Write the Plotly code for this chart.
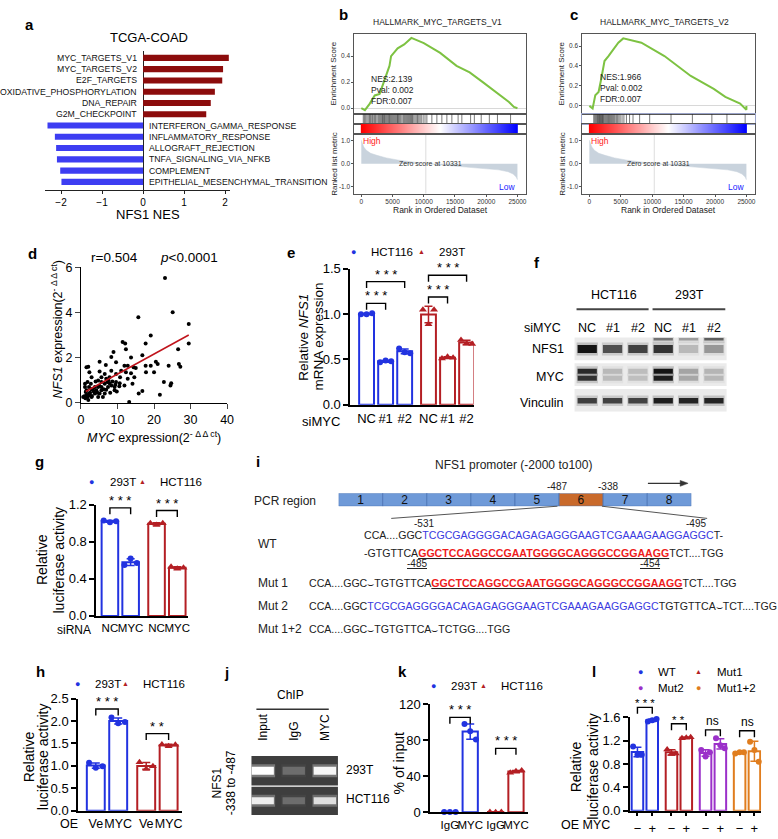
import numpy as np
import plotly.graph_objects as go

W, H = 778, 839
FONT = "Liberation Sans, Arial, sans-serif"
BLUE = "#2233e0"
RED = "#b41f24"
PURPLE = "#9b30c9"
ORANGE = "#e07d1e"
A_RED = "#8c0c0c"
A_BLUE = "#3d3df2"
GREEN = "#7dc242"

# ---------------- data ----------------
# a
a_terms = ["MYC_TARGETS_V1", "MYC_TARGETS_V2", "E2F_TARGETS", "OXIDATIVE_PHOSPHORYLATION",
           "DNA_REPAIR", "G2M_CHECKPOINT", "INTERFERON_GAMMA_RESPONSE", "INFLAMMATORY_RESPONSE",
           "ALLOGRAFT_REJECTION", "TNFA_SIGNALING_VIA_NFKB", "COMPLEMENT",
           "EPITHELIAL_MESENCHYMAL_TRANSITION"]
a_nes = [2.09, 1.95, 1.93, 1.75, 1.65, 1.54, -2.33, -2.15, -2.12, -2.10, -2.02, -1.99]
a_ticks = [-2, -1, 0, 1, 2]

# b / c  (GSEA)
b_rank = [0, 580, 1360, 2150, 2940, 3720, 4510, 4770, 5820, 6870, 8020, 10010, 12630, 15250,
          17350, 19450, 21550, 23640, 24430, 25000]
b_es = [0.0, -0.015, 0.035, 0.098, 0.11, 0.21, 0.325, 0.40, 0.46, 0.49, 0.54, 0.50, 0.425, 0.325,
        0.275, 0.20, 0.123, 0.048, 0.01, 0.0]
b_hits = [320, 500, 700, 900, 1100, 1300, 1450, 1600, 1800, 2000, 2150, 2300, 2500, 2700, 2850,
          3000, 3150, 3300, 3400, 3550, 3700, 3800, 3950, 4100, 4250, 4400, 4500, 4650, 4800,
          4950, 5100, 5250, 5400, 5550, 5700, 5800, 5950, 6100, 6300, 6500, 6700, 6850, 7000,
          7150, 7300, 7450, 7600, 7750, 7900, 8050, 8200, 8400, 8600, 8800, 9000, 9200, 9400,
          9600, 9900, 10200, 10500, 11300, 12100, 12900, 13700, 14500, 15500, 16100, 17500,
          18100, 19200, 20500, 21800, 23900]
c_rank = [0, 520, 943, 1467, 1887, 2410, 3040, 3826, 4610, 5395, 6180, 8280, 11950, 16140, 19800,
          21640, 24000, 25000, 25000]
c_es = [0.0, -0.026, 0.106, 0.139, 0.27, 0.45, 0.5, 0.57, 0.634, 0.677, 0.667, 0.634, 0.50, 0.30,
        0.17, 0.09, 0.024, -0.04, 0.0]
c_hits = [700, 850, 1000, 1150, 1300, 1400, 1500, 1600, 1700, 1800, 1900, 2000, 2100, 2200, 2300,
          2450, 2600, 2750, 2900, 3050, 3200, 3350, 3500, 3650, 3800, 3950, 4100, 4300, 4500,
          4700, 4900, 5200, 5500, 5900, 6400, 6950, 8000, 9600, 13000, 16400, 19500, 21900, 24800]
metric_rank = [0, 150, 400, 800, 1500, 2500, 4000, 6000, 8000, 10331, 12500, 15000, 17500, 20000,
               22000, 23500, 24300, 24800, 25000]
metric_val = [1.02, 0.9, 0.72, 0.58, 0.45, 0.36, 0.25, 0.15, 0.07, 0.0, -0.05, -0.1, -0.15, -0.2,
              -0.27, -0.35, -0.45, -0.58, -0.7]
zero_cross = 10331
rank_ticks = [0, 5000, 10000, 15000, 20000, 25000]

# d
d_myc = [23.0, 25.1, 15.7, 29.5, 29.5, 19.1, 11.4, 12.1, 17.7, 8.9,
         12.3, 26.6, 16.8, 8.3, 13.7, 5.1, 9.6, 20.5, 21.0, 26.8,
         24.0, 17.7, 19.1, 27.2, 2.0, 1.5, 6.8, 11.9, 12.8, 14.4,
         15.0, 8.3, 11.0, 12.3, 17.8, 20.0, 2.3, 5.1, 6.5, 9.6,
         13.7, 2.9, 14.6, 5.6, 6.9, 7.8, 4.0, 8.6, 9.6, 10.6,
         14.1, 22.7, 24.7, 24.5, 5.6, 7.4, 9.4, 11.9, 1.1, 1.5,
         3.3, 4.7, 6.9, 9.2, 6.5, 5.1, 2.4, 3.8, 15.8, 16.8,
         21.6, 13.2, 0.9, 1.8, 2.9, 2.2, 1.3, 4.2, 5.6, 7.2,
         8.3, 2.7, 1.8, 0.6, 2.0, 4.7, 6.0, 6.5, 7.8, 10.7,
         12.8, 4.7, 9.2, 10.5, 5.6, 3.8, 1.1, 2.2,
         1.5, 2.5, 3.0, 1.2, 3.5, 2.8, 4.5, 6.2, 5.0, 8.0, 9.8, 7.5]
d_nfs1 = [5.52, 4.01, 3.79, 3.49, 2.62, 2.98, 2.69, 2.63, 2.62, 2.25,
          2.37, 2.37, 2.11, 2.03, 2.0, 1.82, 1.79, 1.82, 1.72, 1.72,
          1.64, 1.64, 1.64, 1.6, 1.6, 1.57, 1.67, 1.64, 1.64, 1.57,
          1.54, 1.42, 1.42, 1.35, 1.35, 1.35, 1.35, 1.38, 1.28, 1.28,
          1.31, 1.13, 1.13, 1.13, 1.06, 1.13, 0.94, 0.94, 0.92, 0.87,
          0.84, 0.92, 0.87, 0.77, 0.7, 0.7, 0.8, 0.77, 0.7, 0.55,
          0.62, 0.7, 0.58, 0.55, 0.41, 0.41, 0.33, 0.41, 0.41, 0.52,
          0.36, 0.04, 0.29, 0.26, 0.26, 0.41, 0.48, 0.55, 0.92, 0.92,
          0.77, 0.84, 0.92, 0.26, 0.12, 0.26, 0.26, 0.84, 0.87, 1.13,
          1.06, 0.99, 0.7, 0.73, 0.55, 0.7, 0.84, 0.7,
          0.35, 0.45, 0.3, 0.2, 0.5, 0.6, 0.45, 0.6, 0.75, 0.45, 0.5, 1.0]
d_fit_x = [1.3, 29.5]
d_fit_y = [0.5, 3.0]

# e
e_labels = ["NC", "#1", "#2", "NC", "#1", "#2"]
e_hct = [[1.00, 1.00, 1.01], [0.47, 0.49, 0.48], [0.62, 0.58, 0.57]]
e_293 = [[1.05, 0.89, 1.05], [0.51, 0.53, 0.52], [0.715, 0.676, 0.67]]
e_brackets = [(0, 1, 1.12, "* * *"), (0, 2, 1.36, "* * *"), (3, 4, 1.19, "* * *"), (3, 5, 1.43, "* * *")]

# f (western blot band intensities, 0..1)
f_lanes = ["NC", "#1", "#2", "NC", "#1", "#2"]
f_rows = ["NFS1", "MYC", "Vinculin"]
f_nfs1 = [1.0, 0.72, 0.78, 0.85, 0.22, 0.38]
f_nfs1_upper = [0.0, 0.0, 0.0, 0.55, 0.35, 0.65]
f_myc = [0.9, 0.22, 0.2, 1.0, 0.32, 0.24]
f_vinc = [0.8, 0.78, 0.78, 0.95, 0.92, 0.92]

# g
g_labels = ["NC", "MYC", "NC", "MYC"]
g_293 = [[1.03, 1.01, 1.02], [0.55, 0.62, 0.57]]
g_hct = [[1.00, 0.98, 1.00], [0.53, 0.51, 0.52]]
g_brackets = [(0, 1, 1.165, "* * *"), (2, 3, 1.137, "* * *")]

# h
h_labels = ["Ve", "MYC", "Ve", "MYC"]
h_293 = [[1.07, 0.96, 0.99], [2.08, 1.95, 1.98]]
h_hct = [[1.08, 0.93, 0.99], [1.48, 1.44, 1.47]]
h_brackets = [(0, 1, 2.27, "* * *"), (2, 3, 1.72, "* *")]

# i
i_segments = ["1", "2", "3", "4", "5", "6", "7", "8"]
i_seg_len = [1, 1, 1, 1, 1, 1, 1, 1]
i_highlight = "6"

# j (ChIP gel band intensities)
j_lanes = ["Input", "IgG", "MYC"]
j_293 = [1.0, 0.12, 0.95]
j_hct = [0.9, 0.12, 0.8]

# k
k_labels = ["IgG", "MYC", "IgG", "MYC"]
k_293 = [[0.4, 0.3, 0.5], [98.0, 90.0, 81.0]]
k_hct = [[0.3, 0.2, 0.4], [44.0, 45.5, 46.5]]
k_brackets = [(0, 1, 105.5, "* * *"), (2, 3, 71.0, "* * *")]

# l
l_labels = ["\u2212", "+", "\u2212", "+", "\u2212", "+", "\u2212", "+"]
l_wt = [[1.10, 0.96, 0.96], [1.53, 1.55, 1.57]]
l_mut1 = [[1.05, 0.97, 0.98], [1.24, 1.25, 1.26]]
l_mut2 = [[1.04, 0.93, 1.00], [1.24, 1.12, 1.07]]
l_mut12 = [[0.98, 1.00, 1.00], [1.18, 1.04, 0.84]]
l_brackets = [(0, 1, 1.77, "* * *"), (2, 3, 1.49, "* *"), (4, 5, 1.385, "ns"), (6, 7, 1.37, "ns")]

# ---------------- helpers ----------------
fig = go.Figure()
L = dict(width=W, height=H, margin=dict(l=0, r=0, t=0, b=0), paper_bgcolor="white",
         plot_bgcolor="rgba(0,0,0,0)", showlegend=False,
         font=dict(family=FONT, color="black", size=12))
ann = []
shp = []
cnt = [0]


def new():
    cnt[0] += 1
    return cnt[0]


def xa(n): return "xaxis" if n == 1 else f"xaxis{n}"
def ya(n): return "yaxis" if n == 1 else f"yaxis{n}"
def xr(n): return "x" if n == 1 else f"x{n}"
def yr(n): return "y" if n == 1 else f"y{n}"
def xd(x0, x1): return [x0 / W, x1 / W]
def yd(y0, y1): return [1 - y1 / H, 1 - y0 / H]


def T(x, y, s, size=12, color="black", xan="center", yan="middle", angle=0, **kw):
    ann.append(dict(x=x / W, y=1 - y / H, xref="paper", yref="paper", text=s, showarrow=False,
                    font=dict(size=size, color=color, family=FONT), xanchor=xan, yanchor=yan,
                    textangle=angle, **kw))


def VT(x, y, s, size=13):
    # vertical (rotated) title line, x = visual centre of the glyphs
    T(x - 2, y, s, size=size, angle=-90)


def label(x, y, s):
    T(x, y, "<b>" + s + "</b>", size=15)


def pline(x0, y0, x1, y1, color="#444", width=1.5):
    shp.append(dict(type="line", xref="paper", yref="paper", x0=x0 / W, x1=x1 / W,
                    y0=1 - y0 / H, y1=1 - y1 / H, line=dict(color=color, width=width)))


# ---------------- panel a ----------------
n = new()
L[xa(n)] = dict(domain=xd(43, 230), range=[-2.38, 2.12], anchor=yr(n), tickvals=a_ticks,
                ticks="outside", ticklen=3, tickcolor="#222", showline=True, linecolor="#222",
                linewidth=1, zeroline=True, zerolinecolor="#222", zerolinewidth=1,
                showgrid=False, tickfont=dict(size=10))
L[ya(n)] = dict(domain=yd(45, 186), range=[11.7, -0.6], anchor=xr(n), visible=False)
fig.add_bar(x=a_nes, y=list(range(len(a_terms))), orientation="h", width=0.55,
            marker=dict(color=[A_RED if v > 0 else A_BLUE for v in a_nes], line=dict(width=0)),
            xaxis=xr(n), yaxis=yr(n))
for i, (t, v) in enumerate(zip(a_terms, a_nes)):
    ann.append(dict(x=0, y=i, xref=xr(n), yref=yr(n), text=t, showarrow=False,
                    xanchor="right" if v > 0 else "left", xshift=-4 if v > 0 else 4,
                    font=dict(size=8.7, family=FONT, color="#111")))
T(148, 31, "TCGA-COAD", size=13)
T(147, 211, "NFS1 NES", size=13)
label(27, 18, "a")


# ---------------- panels b, c (GSEA) ----------------
def gsea(x0, x1, rank, es, hits, es_range, es_ticks, stats, title, tx, lab, lx, ytx, strip_col):
    xrng = [-1100, 26400]
    box = dict(showline=True, mirror=True, linecolor="#555", linewidth=1, showgrid=False,
               zeroline=False)
    # ES
    n1 = new()
    L[xa(n1)] = dict(domain=xd(x0, x1), range=xrng, anchor=yr(n1), showticklabels=False,
                     ticks="", **box)
    L[ya(n1)] = dict(domain=yd(28, 109), range=es_range, anchor=xr(n1), tickvals=es_ticks,
                     ticktext=["%.1f" % v for v in es_ticks], ticks="outside", ticklen=2,
                     tickcolor="#555", tickfont=dict(size=6.5, color="#333"),
                     showline=True, mirror=True, linecolor="#555", linewidth=1, showgrid=False,
                     zeroline=True, zerolinecolor="#d8d8d8", zerolinewidth=1)
    fig.add_scatter(x=rank, y=es, mode="lines", line=dict(color=GREEN, width=2),
                    xaxis=xr(n1), yaxis=yr(n1))
    # hits
    n2 = new()
    L[xa(n2)] = dict(domain=xd(x0, x1), range=xrng, anchor=yr(n2), showticklabels=False,
                     ticks="", showline=True, mirror=True, linecolor=strip_col, linewidth=1,
                     showgrid=False, zeroline=False)
    L[ya(n2)] = dict(domain=yd(109, 119), range=[0, 1], anchor=xr(n2), showticklabels=False,
                     ticks="", showline=True, mirror=True, linecolor=strip_col, linewidth=1,
                     showgrid=False, zeroline=False)
    hx, hy = [], []
    for h in hits:
        hx += [h, h, None]
        hy += [0, 1, None]
    fig.add_scatter(x=hx, y=hy, mode="lines", line=dict(color="rgba(30,30,30,0.75)", width=0.8),
                    xaxis=xr(n2), yaxis=yr(n2))
    # color bar
    n3 = new()
    L[xa(n3)] = dict(domain=xd(x0, x1), range=xrng, anchor=yr(n3), showticklabels=False,
                     ticks="", **box)
    L[ya(n3)] = dict(domain=yd(119, 129), range=[-0.5, 0.5], anchor=xr(n3),
                     showticklabels=False, ticks="", **box)
    fig.add_heatmap(x=metric_rank, y=[0], z=[metric_rank], zsmooth="best", zmin=0, zmax=25000,
                    colorscale=[[0, "#ff0000"], [0.5, "#ffffff"], [1, "#0000ff"]],
                    showscale=False, xaxis=xr(n3), yaxis=yr(n3), hoverinfo="skip")
    # ranked list
    n4 = new()
    L[xa(n4)] = dict(domain=xd(x0, x1), range=xrng, anchor=yr(n4), tickvals=rank_ticks,
                     ticktext=[str(v) for v in rank_ticks],
                     ticks="outside", ticklen=2, tickcolor="#555",
                     tickfont=dict(size=6.5, color="#333"), **box)
    L[ya(n4)] = dict(domain=yd(129, 190), range=[-1.3, 1.3], anchor=xr(n4), tickvals=[-1, 0, 1],
                     ticktext=["-1.0", "0.0", "1.0"], ticks="outside", ticklen=2,
                     tickcolor="#555", tickfont=dict(size=6.5, color="#333"), **box)
    shp.append(dict(type="line", xref=xr(n4), yref=yr(n4) + " domain", x0=zero_cross,
                    x1=zero_cross, y0=0, y1=1, line=dict(color="#dddddd", width=1), layer="below"))
    fig.add_scatter(x=metric_rank, y=metric_val, mode="lines", fill="tozeroy",
                    fillcolor="#c9d3dd", line=dict(color="#c9d3dd", width=0.5),
                    xaxis=xr(n4), yaxis=yr(n4))
    ann.append(dict(x=11000, y=0, xref=xr(n4), yref=yr(n4), text="Zero score at %d" % zero_cross,
                    showarrow=False, font=dict(size=7, color="#333", family=FONT)))
    ann.append(dict(x=0, y=1.0, xref=xr(n4), yref=yr(n4), text="High", showarrow=False,
                    xanchor="left", font=dict(size=8.5, color="#ff2020", family=FONT)))
    ann.append(dict(x=25000, y=-1.0, xref=xr(n4), yref=yr(n4), text="Low", showarrow=False,
                    xanchor="right", font=dict(size=8.5, color="#2020ff", family=FONT)))
    # texts
    ann.append(dict(x=1300, y=0.0, xref=xr(n1), yref=yr(n1), text=stats, showarrow=False,
                    xanchor="left", yanchor="bottom", align="left",
                    font=dict(size=8.5, color="#222", family=FONT)))
    T(tx, 15, title, size=8.5, color="#222")
    T(ytx, 68, "Enrichment Score", size=8, color="#222", angle=-90)
    T(ytx, 160, "Ranked list metric", size=8, color="#222", angle=-90)
    T((x0 + x1) / 2, 207, "Rank in Ordered Dataset", size=8.5, color="#222")
    label(lx, 8, lab)


gsea(356, 530, b_rank, b_es, b_hits, [-0.045, 0.566], [0.0, 0.2, 0.4],
     "NES:2.139<br>Pval: 0.002<br>FDR:0.007", "HALLMARK_MYC_TARGETS_V1", 440, "b", 345, 335,
     "#555")
gsea(587, 762, c_rank, c_es, c_hits, [-0.082, 0.716], [0.0, 0.2, 0.4, 0.6],
     "NES:1.966<br>Pval: 0.002<br>FDR:0.007", "HALLMARK_MYC_TARGETS_V2", 670, "c", 578, 566,
     "#9aa3c8")

# ---------------- panel d ----------------
n = new()
L[xa(n)] = dict(domain=xd(79, 227), range=[0, 40], anchor=yr(n), tickvals=[0, 10, 20, 30, 40],
                ticks="outside", ticklen=5, tickwidth=1.3, showline=True, linecolor="black",
                linewidth=1.3, showgrid=False, zeroline=False, tickfont=dict(size=12.5))
L[ya(n)] = dict(domain=yd(265, 403), range=[0, 6], anchor=xr(n), tickvals=[0, 2, 4, 6],
                ticks="outside", ticklen=5, tickwidth=1.3, showline=True, linecolor="black",
                linewidth=1.3, showgrid=False, zeroline=False, tickfont=dict(size=12.5))
fig.add_scatter(x=d_myc, y=d_nfs1, mode="markers", marker=dict(color="black", size=4),
                cliponaxis=False, xaxis=xr(n), yaxis=yr(n))
fig.add_scatter(x=d_fit_x, y=d_fit_y, mode="lines", line=dict(color="#c0141c", width=1.5),
                xaxis=xr(n), yaxis=yr(n))
T(113, 255, "r=0.504", size=13.5)
T(188, 255, "<i>p</i><0.0001", size=13.5)
VT(57, 328, "<i>NFS1</i> expression(2<sup>- \u0394 \u0394 ct</sup>)", size=12.5)
T(153, 438, "<i>MYC</i> expression(2<sup>- \u0394 \u0394 ct</sup>)", size=12.5)
label(30, 251, "d")


# ---------------- bar panels ----------------
def bar_panel(groups, labels, positions, width, xl, xrt, pos0, unit, ybot, ppu, ymax, dtick,
              ytop, brackets, xticks=False, tickfs=13, labfs=13, starfs=13, stshift=-2):
    n = new()
    m = new()
    L[xa(n)] = dict(domain=xd(xl, xrt), range=[(xl - pos0) / unit, (xrt - pos0) / unit],
                    anchor=yr(n), tickvals=positions, ticktext=labels, tickangle=0,
                    ticks="outside" if xticks else "", ticklen=4, tickwidth=1.5,
                    tickcolor="black", showline=True, linecolor="black", linewidth=1.5,
                    showgrid=False, zeroline=False, tickfont=dict(size=labfs),
                    ticklabelstandoff=1)
    yt = list(np.round(np.arange(0, ymax + 1e-9, dtick), 3))
    L[ya(n)] = dict(domain=yd(ybot - ymax * ppu, ybot), range=[0, ymax], anchor=xr(n),
                    tickvals=yt, ticktext=[("%g" % v if dtick >= 1 else "%.1f" % v) for v in yt],
                    ticks="outside", ticklen=5, tickwidth=1.5, tickcolor="black",
                    showline=True, linecolor="black", linewidth=1.5, showgrid=False,
                    zeroline=False, tickfont=dict(size=tickfs))
    L[xa(m)] = dict(domain=xd(xl, xrt), range=[(xl - pos0) / unit, (xrt - pos0) / unit],
                    anchor=yr(m), visible=False, overlaying=xr(n))
    L[ya(m)] = dict(domain=yd(ytop, ybot), range=[0, (ybot - ytop) / ppu], anchor=xr(m),
                    visible=False)
    off = [-0.3 * width / 0.8, 0.0, 0.3 * width / 0.8]
    for reps, color, symbol, idx in groups:
        px_ = [positions[i] for i in idx]
        means = [float(np.mean(r)) for r in reps]
        sds = [float(np.std(r, ddof=1)) for r in reps]
        fig.add_bar(x=px_, y=means, width=width,
                    marker=dict(color="white", line=dict(color=color, width=2)),
                    xaxis=xr(n), yaxis=yr(n), cliponaxis=False)
        fig.add_scatter(x=px_, y=means, mode="markers", marker=dict(size=1, color="rgba(0,0,0,0)"),
                        error_y=dict(type="data", array=sds, color=color, thickness=1.5, width=4),
                        xaxis=xr(n), yaxis=yr(n), cliponaxis=False)
        dx, dy = [], []
        for p, r in zip(px_, reps):
            for o, v in zip(off, r):
                dx.append(p + o)
                dy.append(v)
        fig.add_scatter(x=dx, y=dy, mode="markers",
                        marker=dict(color=color, size=7 if symbol != "circle" else 6,
                                    symbol=symbol), cliponaxis=False,
                        xaxis=xr(n), yaxis=yr(n))
    d = 6.5 / ppu
    for i, j, hgt, s in brackets:
        pi, pj = positions[i], positions[j]
        fig.add_scatter(x=[pi, pi, pj, pj], y=[hgt - d, hgt, hgt, hgt - d], mode="lines",
                        line=dict(color="black", width=1.4), xaxis=xr(m), yaxis=yr(m),
                        cliponaxis=False)
        ann.append(dict(x=(pi + pj) / 2, y=hgt, xref=xr(m), yref=yr(m), text=s, showarrow=False,
                        yanchor="bottom", yshift=stshift if s != "ns" else 0,
                        font=dict(size=starfs if s != "ns" else 12, family=FONT)))
    return n


def legend_item(x, y, sym, color, text, size=11.5, symsize=9):
    T(x, y, sym, size=symsize, color=color)
    T(x + 16, y, text, size=size, xan="left")


DOT = "\u25cf"
TRI = "\u25b2"

# e
bar_panel([(e_hct, BLUE, "circle", [0, 1, 2]), (e_293, RED, "triangle-up", [3, 4, 5])],
          e_labels, [0, 1, 2, 3.25, 4.25, 5.25], 0.78, 351.7, 476.7, 368.3, 19.3, 405, 92.2,
          1.5, 0.5, 255, e_brackets)
legend_item(355, 249.3, DOT, BLUE, "HCT116")
legend_item(424, 249.3, TRI, RED, "293T", symsize=7)
T(321.7, 421.7, "siMYC", size=13)
VT(306.7, 336, "Relative <i>NFS1</i>", size=13.5)
VT(321.7, 336, "mRNA expression", size=13.5)
label(292, 250, "e")

# f blot
n = new()
L[xa(n)] = dict(domain=xd(579, 733), range=[-0.5, 5.5], anchor=yr(n), visible=False)
L[ya(n)] = dict(domain=yd(336, 412), range=[2.45, -0.45], anchor=xr(n), visible=False)
for r in range(3):
    shp.append(dict(type="rect", xref=xr(n) + " domain", yref=yr(n), x0=0, x1=1,
                    y0=r - 0.43, y1=r + 0.45, fillcolor="#ebebeb", line=dict(width=0),
                    layer="below"))


def band(lane, yy, inten, w, n_ax, dark=True, half=0.38):
    if inten <= 0:
        return
    if dark:
        lv = int(232 - 212 * inten)
        col = f"rgb({lv},{lv},{lv})"
        glow = f"rgba(60,60,60,{0.25 * inten:.3f})"
    else:
        lv = int(90 + 165 * inten)
        col = f"rgb({lv},{lv},{lv})"
        glow = f"rgba(255,255,255,{0.3 * inten:.3f})"
    fig.add_scatter(x=[lane - half - 0.04, lane + half + 0.04], y=[yy, yy], mode="lines",
                    line=dict(color=glow, width=w + 5), xaxis=xr(n_ax), yaxis=yr(n_ax))
    fig.add_scatter(x=[lane - half, lane + half], y=[yy, yy], mode="lines",
                    line=dict(color=col, width=w), xaxis=xr(n_ax), yaxis=yr(n_ax))


for k in range(6):
    band(k, 0.02, f_nfs1[k], 8, n)
    band(k, -0.36, f_nfs1_upper[k], 2.5, n)
    band(k, 0.88, f_myc[k], 5, n)
    band(k, 1.15, f_myc[k] * 0.95, 5, n)
    band(k, 2.03, f_vinc[k], 5.5, n)
for k, t in enumerate(f_lanes):
    ann.append(dict(x=k, y=1 - 326.7 / H, xref=xr(n), yref="paper", text=t, showarrow=False,
                    font=dict(size=12.5, family=FONT)))
T(619, 293.3, "HCT116", size=12.5)
T(695, 293.3, "293T", size=12.5)
pline(581, 307.7, 654, 307.7, width=2)
pline(658, 307.7, 731.7, 307.7, width=2)
T(567, 326.7, "siMYC", size=12.5, xan="right")
for t, yy in zip(f_rows, [348.3, 376.7, 403.3]):
    T(570, yy, t, size=12.5, xan="right")
label(540.7, 260, "f")

# g
bar_panel([(g_293, BLUE, "circle", [0, 1]), (g_hct, RED, "triangle-up", [2, 3])],
          g_labels, [0, 1, 2.25, 3.25], 0.8, 94.3, 187, 108.3, 21.0, 620, 94.4, 1.2, 0.4,
          492, g_brackets, labfs=11.5)
legend_item(90, 483.3, DOT, BLUE, "293T")
legend_item(141, 483.3, TRI, RED, "HCT116", symsize=7)
T(72, 634, "siRNA", size=12)
VT(41.7, 563, "Relative", size=14)
VT(58.3, 563, "luciferase activity", size=14)
label(36.7, 463, "g")

# h
bar_panel([(h_293, BLUE, "circle", [0, 1]), (h_hct, RED, "triangle-up", [2, 3])],
          h_labels, [0, 1, 2.25, 3.25], 0.8, 76, 181.7, 94, 22.7, 818.3, 45.6, 2.5, 0.5,
          695, h_brackets, labfs=12.5)
legend_item(75, 689.3, DOT, BLUE, "293T")
legend_item(124.3, 689.3, TRI, RED, "HCT116", symsize=7)
T(66.7, 831.7, "OE", size=12.5)
VT(28.3, 763, "Relative", size=14)
VT(43.3, 763, "luciferase activity", size=14)
label(37.7, 676.7, "h")

# i promoter diagram
n = new()
L[xa(n)] = dict(domain=xd(340, 697.3), range=[0, 8], anchor=yr(n), visible=False)
L[ya(n)] = dict(domain=yd(495, 508.3), range=[-0.5, 0.5], anchor=xr(n), visible=False)
bases = list(np.cumsum([0] + i_seg_len[:-1]))
fig.add_bar(y=[0] * len(i_segments), x=i_seg_len, base=bases, orientation="h", width=1,
            marker=dict(color=["#c96a2b" if s == i_highlight else "#6f9ad8" for s in i_segments],
                        line=dict(color="#4a74b5", width=0.8)),
            text=i_segments, textposition="inside", insidetextanchor="middle",
            constraintext="none", textangle=0,
            textfont=dict(size=12, color="#111", family=FONT), xaxis=xr(n), yaxis=yr(n))
T(516.7, 466.7, "NFS1 promoter (-2000 to100)", size=12, color="#222")
# direction arrow (diagram decoration)
pline(653.3, 485, 688, 485, color="#333", width=1.2)
shp.append(dict(type="path", xref="paper", yref="paper",
                path=f"M {694 / W} {1 - 485 / H} L {686 / W} {1 - 482 / H} "
                     f"L {686 / W} {1 - 488 / H} Z",
                fillcolor="#333", line=dict(color="#333", width=0.5)))
T(561.7, 488.3, "-487", size=10, color="#222")
T(613.3, 488.3, "-338", size=10, color="#222")
T(286, 502.7, "PCR region", size=12, color="#222")
pline(561.7, 508.3, 393.3, 520.7, color="#555", width=1)
pline(606.7, 508.3, 713.3, 520.7, color="#555", width=1)
T(426.7, 525.7, "-531", size=10, color="#222")
T(701.7, 525.7, "-495", size=10, color="#222")
BSEQ = "TCGCGAGGGGACAGAGAGGGAAGTCGAAAGAAGGAGGC"
RSEQ = "GGCTCCAGGCCGAATGGGGCAGGGCCGGAAGG"
blue = lambda s: '<span style="color:#3a3ae0">' + s + "</span>"
redb = lambda s: '<b><u><span style="color:#ee1c1c">' + s + "</span></u></b>"
GAP = "\u2323"
SEQFS = 10.6
T(364, 537.3, "CCA....GGC" + blue(BSEQ) + "T-", size=SEQFS, color="#222", xan="left")
T(364, 556, "-GTGTTCA" + redb(RSEQ) + "TCT....TGG", size=SEQFS, color="#222", xan="left")
T(419.3, 566.7, "<u>-485</u>", size=10, color="#222")
T(655, 566.7, "<u>-454</u>", size=10, color="#222")
T(256, 546.7, "WT", size=12, color="#222", xan="left")
T(256, 586.7, "Mut 1", size=12, color="#222", xan="left")
T(256, 610, "Mut 2", size=12, color="#222", xan="left")
T(256, 633, "Mut 1+2", size=12, color="#222", xan="left")
T(307.7, 586.7, "CCA....GGC" + GAP + "TGTGTTCA" + redb(RSEQ) + "TCT....TGG", size=SEQFS,
  color="#222", xan="left")
T(307.7, 610, "CCA....GGC" + blue(BSEQ) + "TGTGTTCA" + GAP + "TCT....TGG", size=SEQFS,
  color="#222", xan="left")
T(307.7, 633, "CCA....GGC" + GAP + "TGTGTTCA" + GAP + "TCTGG....TGG", size=SEQFS,
  color="#222", xan="left")
label(258.3, 463, "i")

# j ChIP gel
n = new()
L[xa(n)] = dict(domain=xd(251.7, 339.3), range=[-0.36, 2.42], anchor=yr(n), visible=False)
L[ya(n)] = dict(domain=yd(762.7, 822.7), range=[1.47, -0.49], anchor=xr(n), visible=False)
for y0, y1 in [(-0.49, 0.49), (0.53, 1.47)]:
    shp.append(dict(type="rect", xref=xr(n) + " domain", yref=yr(n), x0=0, x1=1, y0=y0, y1=y1,
                    fillcolor="#3e3e3e", line=dict(width=0), layer="below"))
for k in range(3):
    band(k, 0.0, j_293[k], 8, n, dark=False, half=0.36)
    band(k, 1.0, j_hct[k], 7, n, dark=False, half=0.36)
for k, t in enumerate(j_lanes):
    ann.append(dict(x=k, y=1 - 749 / H, xref=xr(n), yref="paper", text=t, showarrow=False,
                    textangle=-90, yanchor="bottom", font=dict(size=12, family=FONT)))
T(291.7, 701, "ChIP", size=12)
pline(256.7, 715, 330, 715, color="#333", width=1.5)
T(345, 776.7, "293T", size=12, xan="left")
T(345, 806, "HCT116", size=12, xan="left")
VT(218.3, 790, "NFS1", size=12)
VT(233.3, 790, "-338 to -487", size=12)
label(226.7, 678, "j")

# k
bar_panel([(k_293, BLUE, "circle", [0, 1]), (k_hct, RED, "triangle-up", [2, 3])],
          k_labels, [0, 1, 2.25, 3.25], 0.75, 432.7, 531.7, 452.7, 20.6, 820, 0.917, 120, 40,
          700, k_brackets, labfs=11.5)
legend_item(435.7, 691, DOT, BLUE, "293T")
legend_item(486.7, 691, TRI, RED, "HCT116", symsize=7)
VT(403.3, 770, "% of input", size=14)
label(405, 676.7, "k")

# l
bar_panel([(l_wt, BLUE, "circle", [0, 1]), (l_mut1, RED, "triangle-up", [2, 3]),
           (l_mut2, PURPLE, "circle", [4, 5]), (l_mut12, ORANGE, "circle", [6, 7])],
          l_labels, [0, 1, 2.3, 3.3, 4.6, 5.6, 6.9, 7.9], 0.78, 635, 768, 642.7, 15.0, 818.3,
          59.4, 1.6, 0.4, 700, l_brackets, xticks=True, starfs=11.5, stshift=-4)
legend_item(646, 676.7, DOT, BLUE, "WT")
legend_item(705, 676.7, TRI, RED, "Mut1", symsize=7)
legend_item(646, 693, DOT, PURPLE, "Mut2")
legend_item(705, 693, DOT, ORANGE, "Mut1+2")
T(590, 833.3, "OE MYC", size=12.5)
VT(583.3, 773.3, "Relative", size=14)
VT(600, 773.3, "luciferase activity", size=14)
label(598.3, 676.7, "l")

L["annotations"] = ann
L["shapes"] = shp
fig.update_layout(**L)
fig.write_html("out.html", config={"displayModeBar": False},
               post_script="document.body.style.margin='0';document.body.style.padding='0';")
